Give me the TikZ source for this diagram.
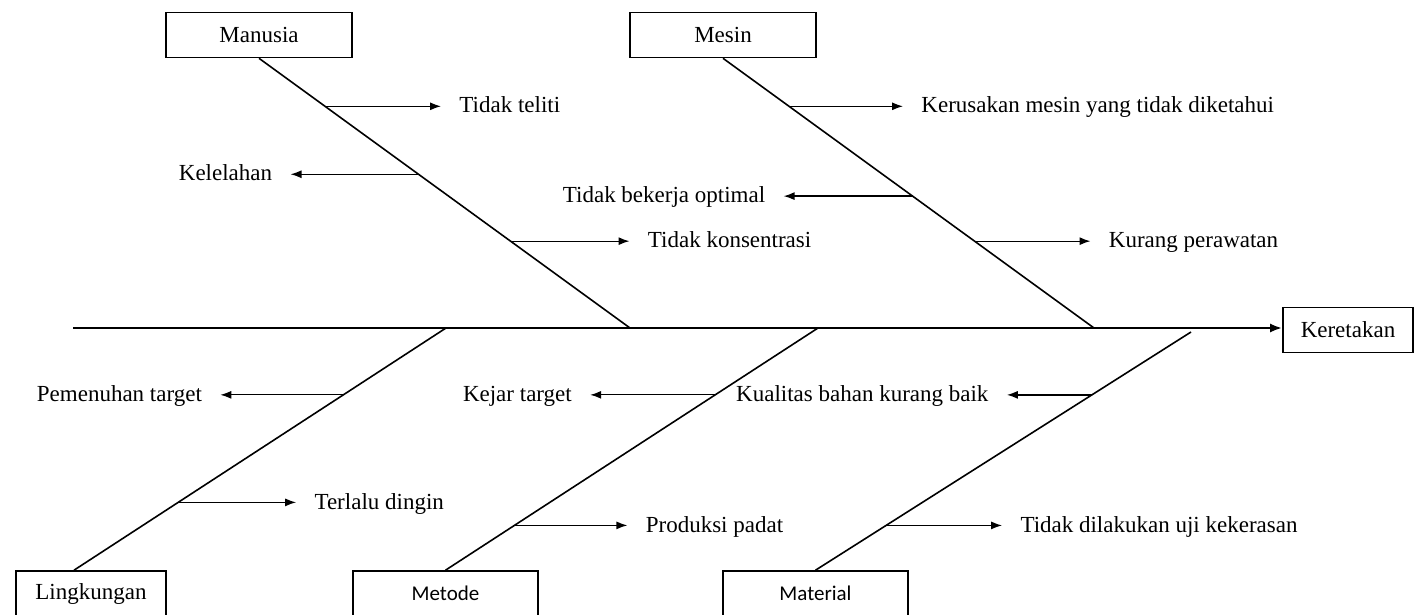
\documentclass[tikz,border=0pt]{standalone}
\usepackage{fontspec}
\setmainfont{Liberation Serif}
\newfontfamily\boxsans{Carlito}
\usetikzlibrary{arrows.meta, positioning}

\begin{document}
\begin{tikzpicture}[x=0.5pt, y=-0.5pt,
    font=\fontsize{11.5}{13}\selectfont,
    cat/.style={draw, line width=0.8pt, minimum height=22.5pt, inner sep=0pt},
    catsans/.style={cat, font=\boxsans\fontsize{10.5}{12}\selectfont},
    bone/.style={line width=0.8pt},
    cause/.style={inner xsep=9pt, inner ysep=0pt, text height=1.45ex, text depth=0pt},
    twig/.style={line width=0.65pt, -{Latex[length=5.5pt, width=4pt]}}]
    \useasboundingbox (0,0) rectangle (1414,615);

    % Effect and spine
    \node[cat, minimum width=65pt] (ker) at (1348,330) {Keretakan};
    \coordinate (tail) at (73,328);
    \draw[line width=1.3pt, -{Latex[length=6pt, width=4.5pt]}] (tail) -- (tail -| ker.west);

    % Manusia
    \node[cat, minimum width=93pt] (man) at (259,35) {Manusia};
    \coordinate (manE) at (630,328);
    \draw[bone] (man.south) -- (manE)
        coordinate[pos=0.178] (m1) coordinate[pos=0.430] (m2) coordinate[pos=0.678] (m3);
    \node[cause, right=58pt of m1] (c1) {Tidak teliti};
    \node[cause, left=64pt of m2] (c2) {Kelelahan};
    \node[cause, right=59.5pt of m3] (c3) {Tidak konsentrasi};
    \draw[twig] (m1) -- (c1.west);
    \draw[twig] (m2) -- (c2.east);
    \draw[twig] (m3) -- (c3.west);

    % Mesin
    \node[cat, minimum width=93pt] (mes) at (723,35) {Mesin};
    \coordinate (mesE) at (1094,328);
    \draw[bone] (mes.south) -- (mesE)
        coordinate[pos=0.178] (e1) coordinate[pos=0.511] (e2) coordinate[pos=0.678] (e3);
    \node[cause, right=57pt of e1] (d1) {Kerusakan mesin yang tidak diketahui};
    \node[cause, left=64.5pt of e2] (d2) {Tidak bekerja optimal};
    \node[cause, right=58pt of e3] (d3) {Kurang perawatan};
    \draw[twig] (e1) -- (d1.west);
    \draw[twig] (e2) -- (d2.east);
    \draw[twig] (e3) -- (d3.west);

    % Lingkungan
    \node[cat, minimum width=75pt] (lin) at (91,593.5) {Lingkungan};
    \coordinate (linE) at (446,328);
    \draw[bone] ([xshift=-8.5pt]lin.north) -- (linE)
        coordinate[pos=0.724] (l1) coordinate[pos=0.280] (l2);
    \node[cause, left=61.5pt of l1] (k1) {Pemenuhan target};
    \node[cause, right=59pt of l2] (k2) {Terlalu dingin};
    \draw[twig] (l1) -- (k1.east);
    \draw[twig] (l2) -- (k2.west);

    % Metode
    \node[catsans, minimum width=92.5pt] (met) at (445.5,593.5) {Metode};
    \coordinate (metE) at (818,328);
    \draw[bone] (met.north) -- (metE)
        coordinate[pos=0.724] (t1) coordinate[pos=0.185] (t2);
    \node[cause, left=62.5pt of t1] (s1) {Kejar target};
    \node[cause, right=56.5pt of t2] (s2) {Produksi padat};
    \draw[twig] (t1) -- (s1.east);
    \draw[twig] (t2) -- (s2.west);

    % Material
    \node[catsans, minimum width=92.5pt] (mat) at (815.5,593.5) {Material};
    \coordinate (matE) at (1191,332);
    \draw[bone] (mat.north) -- (matE)
        coordinate[pos=0.736] (a1) coordinate[pos=0.188] (a2);
    \node[cause, left=42.5pt of a1] (b1) {Kualitas bahan kurang baik};
    \node[cause, right=58pt of a2] (b2) {Tidak dilakukan uji kekerasan};
    \draw[twig] (a1) -- (b1.east);
    \draw[twig] (a2) -- (b2.west);
\end{tikzpicture}
\end{document}
